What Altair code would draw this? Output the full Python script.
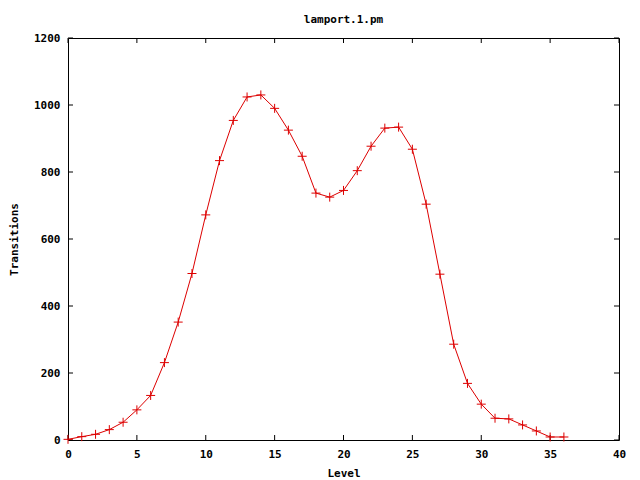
import altair as alt
import pandas as pd

levels = list(range(0, 37))
transitions = [2, 10, 17, 31, 53, 90, 133, 231, 352, 497, 672, 834, 954, 1024,
               1030, 990, 925, 847, 737, 725, 745, 804, 877, 931, 934, 868, 704,
               495, 286, 169, 107, 65, 63, 45, 27, 9, 9]
x_ticks = [0, 5, 10, 15, 20, 25, 30, 35, 40]
y_ticks = [0, 200, 400, 600, 800, 1000, 1200]

W, H = 551, 402
FONT = "DejaVu Sans Mono"
RED = "#dd0000"

df = pd.DataFrame({"Level": levels, "Transitions": transitions})
xt = pd.DataFrame({"v": x_ticks})
yt = pd.DataFrame({"v": y_ticks})

xs = alt.Scale(domain=[0, 40], nice=False, zero=False)
ys = alt.Scale(domain=[0, 1200], nice=False, zero=False)

x_axis = alt.Axis(values=x_ticks, grid=False, domain=False, ticks=False,
                  format="d",
                  labelFont=FONT, labelFontWeight="bold", labelFontSize=11,
                  labelColor="black", labelPadding=8, labelFlush=False,
                  title="Level", titleFont=FONT, titleFontWeight="bold",
                  titleFontSize=11, titleColor="black", titleY=33,
                  titleX=W / 2, titleBaseline="middle")
y_axis = alt.Axis(values=y_ticks, grid=False, domain=False, ticks=False,
                  format="d",
                  labelFont=FONT, labelFontWeight="bold", labelFontSize=11,
                  labelColor="black", labelPadding=8, labelFlush=False,
                  title="Transitions", titleFont=FONT, titleFontWeight="bold",
                  titleFontSize=11, titleColor="black", titleX=-54,
                  titleY=H / 2, titleAngle=270, titleBaseline="middle",
                  titleAlign="center")

line = alt.Chart(df).mark_line(color=RED, strokeWidth=1).encode(
    x=alt.X("Level:Q", scale=xs, axis=x_axis),
    y=alt.Y("Transitions:Q", scale=ys, axis=y_axis),
)
pts = alt.Chart(df).mark_point(
    shape="M-1,0L1,0M0,-1L0,1", size=81, filled=False, color=RED,
    strokeWidth=1, opacity=1,
).encode(x=alt.X("Level:Q", scale=xs), y=alt.Y("Transitions:Q", scale=ys))

tl = 5
xb = alt.Chart(xt).mark_rule(color="black", strokeWidth=1).encode(
    x=alt.X("v:Q", scale=xs), y=alt.value(H), y2=alt.value(H - tl))
xtop = alt.Chart(xt).mark_rule(color="black", strokeWidth=1).encode(
    x=alt.X("v:Q", scale=xs), y=alt.value(0), y2=alt.value(tl))
yl = alt.Chart(yt).mark_rule(color="black", strokeWidth=1).encode(
    y=alt.Y("v:Q", scale=ys), x=alt.value(0), x2=alt.value(tl))
yr = alt.Chart(yt).mark_rule(color="black", strokeWidth=1).encode(
    y=alt.Y("v:Q", scale=ys), x=alt.value(W), x2=alt.value(W - tl))

chart = alt.layer(xb, xtop, yl, yr, line, pts).properties(
    width=W, height=H,
    title=alt.TitleParams("lamport.1.pm", font=FONT, fontWeight="bold",
                          fontSize=11, color="black", anchor="middle",
                          baseline="middle", offset=1),
    autosize=alt.AutoSizeParams(type="none"),
    padding={"left": 60, "top": 30, "right": 13, "bottom": 40},
).configure(
    background="white",
    view=alt.ViewConfig(stroke="black", strokeWidth=1),
)

chart.save("out.html", embed_options={"renderer": "svg", "actions": False})
